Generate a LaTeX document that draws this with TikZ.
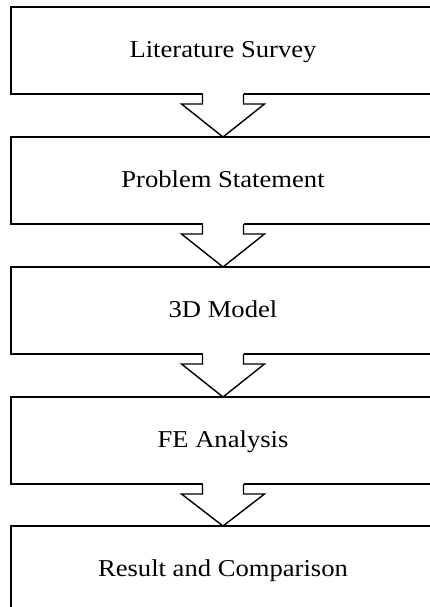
\documentclass[tikz,border=0pt]{standalone}
\usepackage{fontspec}
\setmainfont{Liberation Serif}[FakeStretch=1.1]
\usetikzlibrary{calc}
\begin{document}
\begin{tikzpicture}[x=1pt,y=-1pt,
  stepbox/.style={draw, line width=1.4pt, outer sep=0pt, minimum width=424pt, minimum height=87pt, inner sep=0pt, text height=17pt, text depth=3.6pt, font=\fontsize{24.2}{29}\selectfont},
  flowline/.style={draw, line width=1.4pt, line join=miter}]
\useasboundingbox (0,0) rectangle (430,607);
\node[stepbox] (s1) at (223,50.5) {Literature Survey};
\node[stepbox] (s2) at (223,180.5) {Problem Statement};
\node[stepbox] (s3) at (223,310.5) {3D Model};
\node[stepbox] (s4) at (223,440.5) {FE Analysis};
\node[stepbox] (s5) at (223,569.5) {Result and Comparison};
\foreach \a/\b in {s1/s2,s2/s3,s3/s4,s4/s5}{
  \fill[white] ($(\a.south)+(-20.5,-1.5)$) rectangle ($(\a.south)+(20.5,10)$);
  \draw[flowline] ($(\a.south)+(-20.5,0)$) -- ($(\a.south)+(-20.5,10)$) -- ($(\a.south)+(-41.5,10)$) -- (\b.north) -- ($(\a.south)+(41.5,10)$) -- ($(\a.south)+(20.5,10)$) -- ($(\a.south)+(20.5,0)$);
}
\end{tikzpicture}
\end{document}
